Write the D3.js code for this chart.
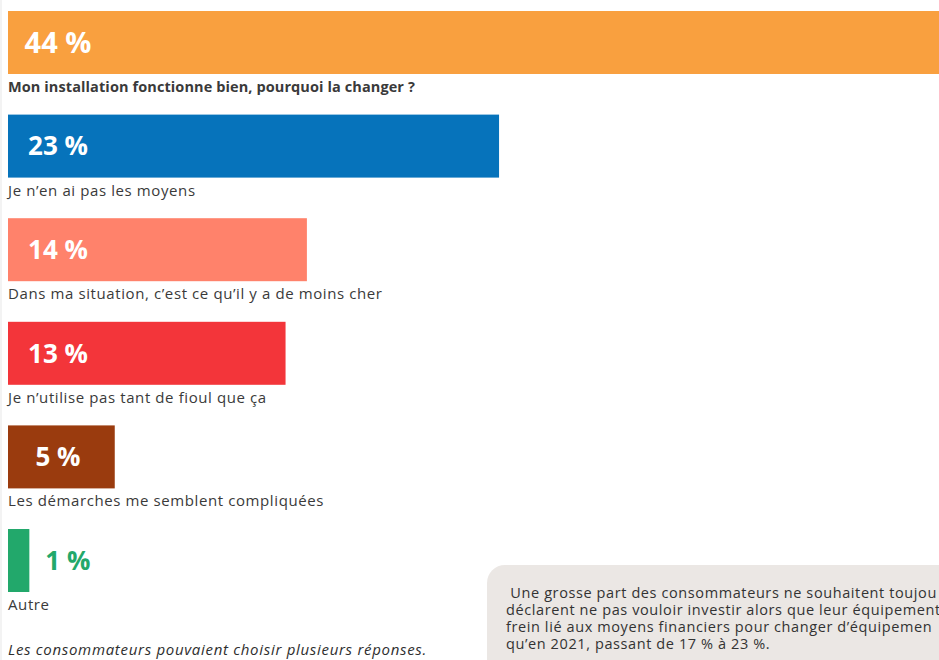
<!DOCTYPE html>
<html><head><meta charset="utf-8">
<script src="https://cdn.jsdelivr.net/npm/d3@7"></script>
<style>
html,body{margin:0;padding:0;background:#fff;overflow:hidden;}
svg{display:block;}
</style></head>
<body><svg id="c" width="939" height="660"></svg>
<script>
const categories = [
  "Mon installation fonctionne bien, pourquoi la changer ?",
  "Je n\u2019en ai pas les moyens",
  "Dans ma situation, c\u2019est ce qu\u2019il y a de moins cher",
  "Je n\u2019utilise pas tant de fioul que \u00e7a",
  "Les d\u00e9marches me semblent compliqu\u00e9es",
  "Autre"
];
const values = [44, 23, 14, 13, 5, 1];
const colors = ["#f9a03f", "#0673bb", "#ff826b", "#f3353a", "#9a3b0e", "#22a86b"];
const footnote = "Les consommateurs pouvaient choisir plusieurs r\u00e9ponses.";
const boxLines = [
  "\u00a0Une grosse part des consommateurs ne souhaitent toujou",
  "d\u00e9clarent ne pas vouloir investir alors que leur \u00e9quipement",
  "frein li\u00e9 aux moyens financiers pour changer d\u2019\u00e9quipemen",
  "qu\u2019en 2021, passant de 17 % \u00e0 23 %."
];

const FONT = "'Open Sans', sans-serif";
const svg = d3.select("#c");
svg.append("rect").attr("x",0).attr("y",0).attr("width",2).attr("height",660).attr("fill","#f3f3f3");

const x = d3.scaleLinear().domain([0, 44]).range([8, 8 + 44 * 21.35]);
const y = d3.scaleBand().domain(categories).range([11, 592]).paddingInner(0.392).paddingOuter(0);

const rows = svg.append("g").selectAll("g.row").data(categories).join("g").attr("class","row");
const inside = i => (x(values[i]) - x(0)) > 80;

rows.append("rect")
  .attr("x", x(0))
  .attr("y", d => y(d))
  .attr("width", (d,i) => x(values[i]) - x(0))
  .attr("height", y.bandwidth())
  .attr("fill", (d,i) => colors[i]);

rows.append("text")
  .attr("x", (d,i) => inside(i) ? 58 : x(values[i]) + 16)
  .attr("y", d => y(d) + y.bandwidth()/2)
  .attr("dy", "0.36em")
  .attr("text-anchor", (d,i) => inside(i) ? "middle" : "start")
  .attr("font-family", FONT)
  .attr("font-weight", 700)
  .attr("font-size", (d,i) => i === 0 ? 29 : 26)
  .attr("fill", (d,i) => inside(i) ? "#fff" : colors[i])
  .text((d,i) => values[i] + " %");

rows.append("text")
  .attr("x", 8)
  .attr("y", d => y(d) + y.bandwidth() + 18)
  .attr("font-family", FONT)
  .attr("font-weight", (d,i) => i === 0 ? 700 : 500)
  .attr("font-size", (d,i) => i === 0 ? 14.5 : 15)
  .attr("letter-spacing", (d,i) => i === 0 ? 0.1 : 0.6)
  .attr("fill", "#3a3a3a")
  .text(d => d);

svg.append("text")
  .attr("x", 8).attr("y", 655)
  .attr("font-family", FONT).attr("font-style","italic").attr("font-weight",500)
  .attr("font-size", 15).attr("letter-spacing", 0.7).attr("fill","#2e2e2e")
  .text(footnote);

svg.append("rect").attr("x",487).attr("y",565).attr("width",520).attr("height",140)
  .attr("rx",18).attr("fill","#ebe7e4");
svg.append("g").selectAll("text").data(boxLines).join("text")
  .attr("x", 506)
  .attr("y", (d,i) => 598 + i * 17)
  .attr("font-family", FONT).attr("font-weight",500)
  .attr("font-size", 14.5).attr("letter-spacing", 0.6).attr("fill","#333")
  .text(d => d);
</script>
</body></html>
